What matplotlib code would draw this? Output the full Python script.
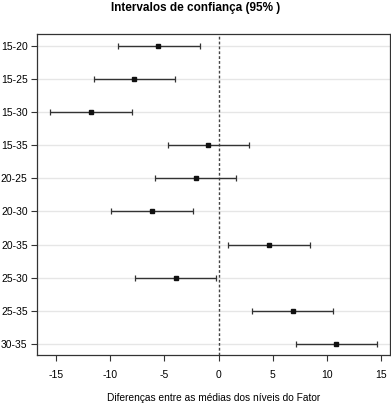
import matplotlib
matplotlib.use("Agg")
import matplotlib.pyplot as plt

plt.rcParams['font.family'] = ['Liberation Sans', 'DejaVu Sans']

labels = ["15-20", "15-25", "15-30", "15-35", "20-25", "20-30", "20-35", "25-30", "25-35", "30-35"]
diff = [-5.56, -7.77, -11.76, -0.95, -2.12, -6.14, 4.61, -3.93, 6.82, 10.82]
lower = [-9.24, -11.46, -15.5, -4.7, -5.83, -9.89, 0.86, -7.71, 3.04, 7.1]
upper = [-1.75, -3.99, -7.93, 2.77, 1.6, -2.33, 8.39, -0.24, 10.57, 14.6]
xticks = [-15, -10, -5, 0, 5, 10, 15]

fig = plt.figure(figsize=(3.91, 4.05), dpi=100)
ax = fig.add_axes([37.3/391, 1-355/405, (390-37.3)/391, (355-34)/405])

n = len(labels)
ys = list(range(n))
for y in ys:
    ax.axhline(y, color='#e6e6e6', lw=1.0, zorder=0)
ax.axvline(0, color='#444444', lw=1.0, ls=(0, (2, 1.5)), zorder=1)

xerr = [[d - l for d, l in zip(diff, lower)], [u - d for d, u in zip(diff, upper)]]
ax.errorbar(diff, ys, xerr=xerr, fmt='s', color='#111111', ecolor='#333333',
            ms=3.2, elinewidth=1.0, capsize=2.2, capthick=0.9, zorder=3)

ax.set_xlim(-16.7, 15.8)
ax.set_ylim(n - 1 + 0.33, -0.35)
ax.set_yticks(ys)
ax.set_yticklabels(labels, fontsize=7.5)
ax.set_xticks(xticks)
ax.set_xticklabels([str(t) for t in xticks], fontsize=7.5)
ax.tick_params(axis='both', direction='out', length=4, width=0.8, color='#333333', pad=3)
ax.tick_params(axis='x', pad=7)
for s in ax.spines.values():
    s.set_color('#333333')
    s.set_linewidth(0.9)

ax.set_xlabel("Diferenças entre as médias dos níveis do Fator", fontsize=7.3, labelpad=9)
fig.text(0.5, 1 - 7.5/405, "Intervalos de confiança (95% )", ha='center', va='center',
         fontsize=8.5, fontweight='bold')

fig.savefig("out.png", dpi=100)
